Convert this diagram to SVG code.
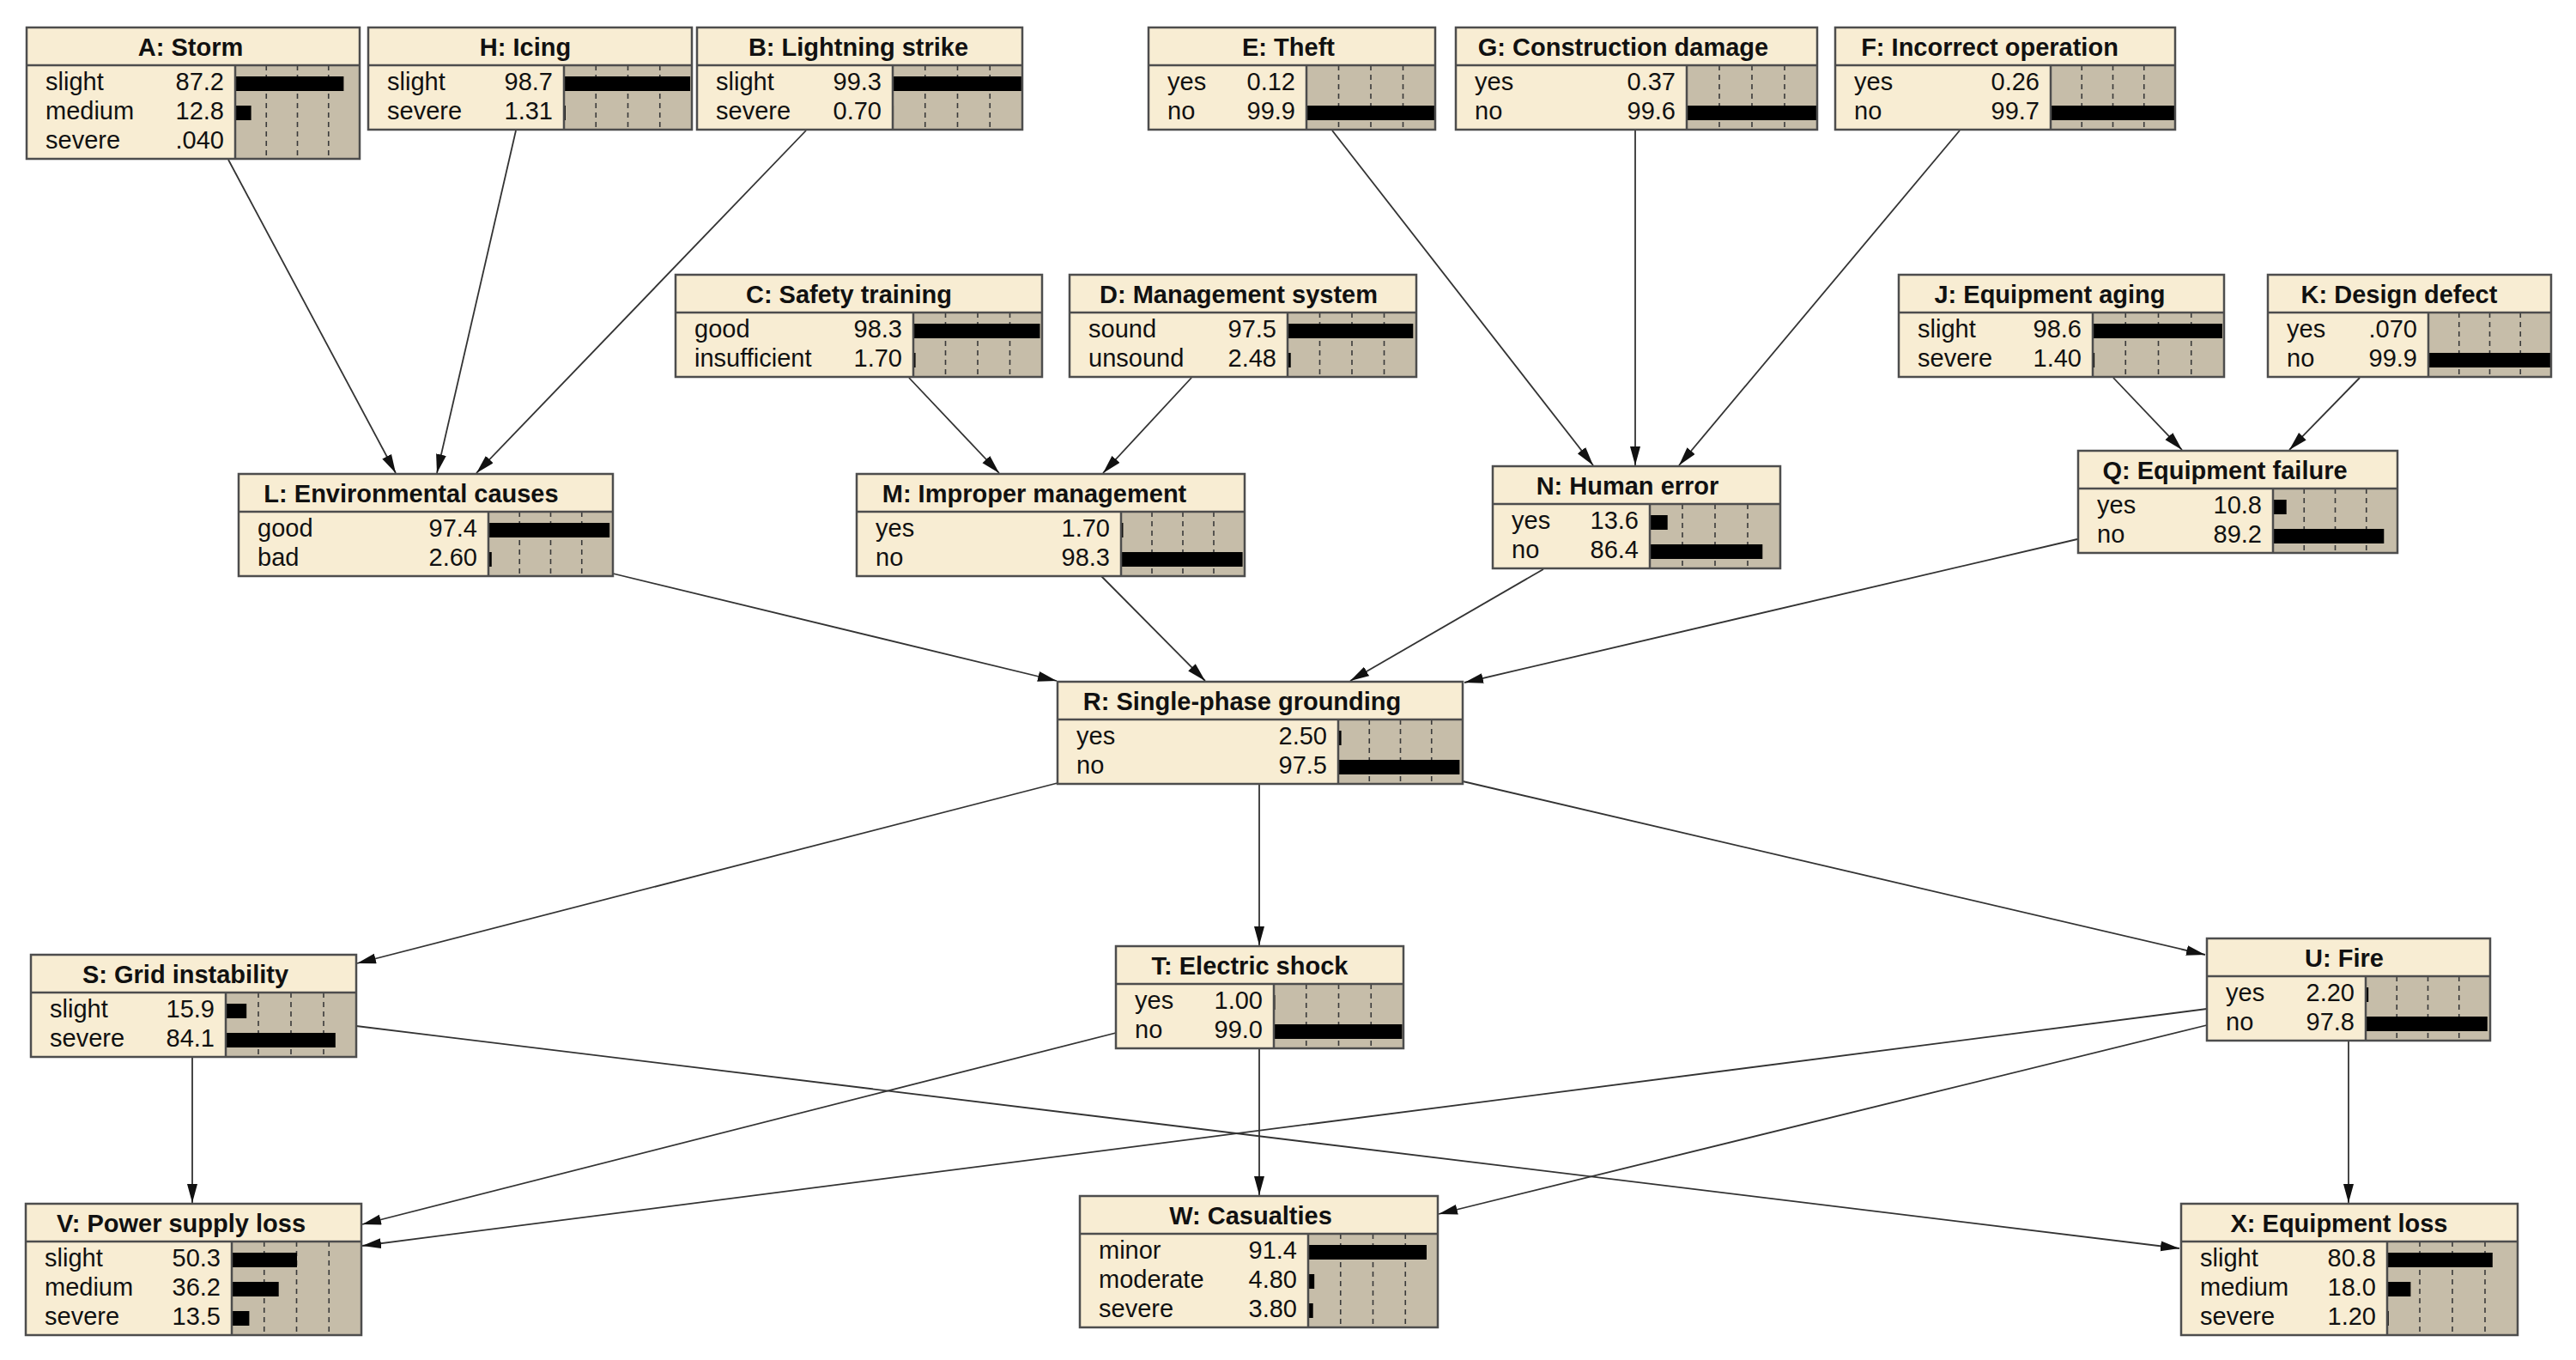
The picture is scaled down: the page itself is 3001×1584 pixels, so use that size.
<svg xmlns="http://www.w3.org/2000/svg" width="3001" height="1584" viewBox="0 0 3001 1584">
<defs>
<style>
.bg{fill:#ffffff}
.box{fill:#F8EDD3}
.frame{fill:none;stroke:#4d4d4d;stroke-width:2.5}
.sep{stroke:#4d4d4d;stroke-width:2.5}
.ba{fill:#C6BDA9}
.grid{stroke:#3a3a3a;stroke-width:1.6;stroke-dasharray:6 5}
.bar{fill:#000}
.title{font-family:"Liberation Sans",Arial,sans-serif;font-weight:bold;font-size:29px;fill:#111;text-anchor:middle}
.lbl{font-family:"Liberation Sans",Arial,sans-serif;font-size:29px;fill:#111}
.val{font-family:"Liberation Sans",Arial,sans-serif;font-size:29px;fill:#111;text-anchor:end}
.edge{stroke:#333;stroke-width:1.8;fill:none;marker-end:url(#arr)}
</style>
<marker id="arr" markerUnits="userSpaceOnUse" markerWidth="24" markerHeight="14" refX="22" refY="6" orient="auto">
<path d="M0,0 L22,6 L0,12 z" fill="#111"/>
</marker>
</defs>
<rect class="bg" x="0" y="0" width="3001" height="1584"/>

<g id="connectors">
<line class="edge" x1="266" y1="186" x2="461" y2="551"/>
<line class="edge" x1="601" y1="152" x2="509" y2="551"/>
<line class="edge" x1="939" y1="152" x2="555" y2="551"/>
<line class="edge" x1="1059" y1="440" x2="1164" y2="551"/>
<line class="edge" x1="1388" y1="440" x2="1285" y2="551"/>
<line class="edge" x1="1552" y1="152" x2="1856" y2="542"/>
<line class="edge" x1="1905" y1="152" x2="1905" y2="542"/>
<line class="edge" x1="2283" y1="152" x2="1956" y2="542"/>
<line class="edge" x1="2462" y1="440" x2="2542" y2="524"/>
<line class="edge" x1="2749" y1="440" x2="2667" y2="524"/>
<line class="edge" x1="714" y1="668" x2="1231" y2="793"/>
<line class="edge" x1="1283" y1="671" x2="1404" y2="793"/>
<line class="edge" x1="1798" y1="663" x2="1573" y2="793"/>
<line class="edge" x1="2420" y1="628" x2="1706" y2="795"/>
<line class="edge" x1="1232" y1="912" x2="416" y2="1122"/>
<line class="edge" x1="1467" y1="912" x2="1467" y2="1101"/>
<line class="edge" x1="1704" y1="910" x2="2569" y2="1112"/>
<line class="edge" x1="224" y1="1231" x2="224" y2="1401"/>
<line class="edge" x1="415" y1="1195" x2="2539" y2="1454"/>
<line class="edge" x1="1300" y1="1203" x2="422" y2="1426"/>
<line class="edge" x1="2571" y1="1175" x2="422" y2="1451"/>
<line class="edge" x1="1467" y1="1222" x2="1467" y2="1392"/>
<line class="edge" x1="2571" y1="1194" x2="1676" y2="1414"/>
<line class="edge" x1="2736" y1="1211" x2="2736" y2="1401"/>
</g>

<!-- A: Storm -->
<g id="node-A" transform="translate(31,32)">
<rect class="box" x="0" y="0" width="388" height="153"/>
<rect class="ba" x="243" y="44" width="145" height="109"/>
<line class="grid" x1="279.25" y1="44" x2="279.25" y2="153"/><line class="grid" x1="315.5" y1="44" x2="315.5" y2="153"/><line class="grid" x1="351.75" y1="44" x2="351.75" y2="153"/>
<rect class="bar" x="243" y="57" width="126.4" height="17"/>
<rect class="bar" x="243" y="91" width="18.6" height="17"/>
<text class="title" x="191" y="33">A: Storm</text>
<text class="lbl" x="22" y="73">slight</text><text class="val" x="230" y="73">87.2</text>
<text class="lbl" x="22" y="107">medium</text><text class="val" x="230" y="107">12.8</text>
<text class="lbl" x="22" y="141">severe</text><text class="val" x="230" y="141">.040</text>
<line class="sep" x1="0" y1="44" x2="388" y2="44"/><line class="sep" x1="243" y1="44" x2="243" y2="153"/>
<rect class="frame" x="0" y="0" width="388" height="153"/>
</g>

<!-- H: Icing -->
<g id="node-H" transform="translate(429,32)">
<rect class="box" x="0" y="0" width="377" height="119"/>
<rect class="ba" x="228" y="44" width="149" height="75"/>
<line class="grid" x1="265.25" y1="44" x2="265.25" y2="119"/><line class="grid" x1="302.5" y1="44" x2="302.5" y2="119"/><line class="grid" x1="339.75" y1="44" x2="339.75" y2="119"/>
<rect class="bar" x="228" y="57" width="147.1" height="17"/>
<rect class="bar" x="228" y="91" width="1.95" height="17"/>
<text class="title" x="183" y="33">H: Icing</text>
<text class="lbl" x="22" y="73">slight</text><text class="val" x="215" y="73">98.7</text>
<text class="lbl" x="22" y="107">severe</text><text class="val" x="215" y="107">1.31</text>
<line class="sep" x1="0" y1="44" x2="377" y2="44"/><line class="sep" x1="228" y1="44" x2="228" y2="119"/>
<rect class="frame" x="0" y="0" width="377" height="119"/>
</g>

<!-- B: Lightning strike -->
<g id="node-B" transform="translate(812,32)">
<rect class="box" x="0" y="0" width="379" height="119"/>
<rect class="ba" x="228" y="44" width="151" height="75"/>
<line class="grid" x1="265.75" y1="44" x2="265.75" y2="119"/><line class="grid" x1="303.5" y1="44" x2="303.5" y2="119"/><line class="grid" x1="341.25" y1="44" x2="341.25" y2="119"/>
<rect class="bar" x="228" y="57" width="149.9" height="17"/>
<rect class="bar" x="228" y="91" width="1.06" height="17"/>
<text class="title" x="188" y="33">B: Lightning strike</text>
<text class="lbl" x="22" y="73">slight</text><text class="val" x="215" y="73">99.3</text>
<text class="lbl" x="22" y="107">severe</text><text class="val" x="215" y="107">0.70</text>
<line class="sep" x1="0" y1="44" x2="379" y2="44"/><line class="sep" x1="228" y1="44" x2="228" y2="119"/>
<rect class="frame" x="0" y="0" width="379" height="119"/>
</g>

<!-- E: Theft -->
<g id="node-E" transform="translate(1338,32)">
<rect class="box" x="0" y="0" width="334" height="119"/>
<rect class="ba" x="184" y="44" width="150" height="75"/>
<line class="grid" x1="221.5" y1="44" x2="221.5" y2="119"/><line class="grid" x1="259" y1="44" x2="259" y2="119"/><line class="grid" x1="296.5" y1="44" x2="296.5" y2="119"/>
<rect class="bar" x="184" y="57" width="0.18" height="17"/>
<rect class="bar" x="184" y="91" width="149.9" height="17"/>
<text class="title" x="163" y="33">E: Theft</text>
<text class="lbl" x="22" y="73">yes</text><text class="val" x="171" y="73">0.12</text>
<text class="lbl" x="22" y="107">no</text><text class="val" x="171" y="107">99.9</text>
<line class="sep" x1="0" y1="44" x2="334" y2="44"/><line class="sep" x1="184" y1="44" x2="184" y2="119"/>
<rect class="frame" x="0" y="0" width="334" height="119"/>
</g>

<!-- G: Construction damage -->
<g id="node-G" transform="translate(1696,32)">
<rect class="box" x="0" y="0" width="421" height="119"/>
<rect class="ba" x="269" y="44" width="152" height="75"/>
<line class="grid" x1="307" y1="44" x2="307" y2="119"/><line class="grid" x1="345" y1="44" x2="345" y2="119"/><line class="grid" x1="383" y1="44" x2="383" y2="119"/>
<rect class="bar" x="269" y="57" width="0.56" height="17"/>
<rect class="bar" x="269" y="91" width="151.4" height="17"/>
<text class="title" x="195" y="33">G: Construction damage</text>
<text class="lbl" x="22" y="73">yes</text><text class="val" x="256" y="73">0.37</text>
<text class="lbl" x="22" y="107">no</text><text class="val" x="256" y="107">99.6</text>
<line class="sep" x1="0" y1="44" x2="421" y2="44"/><line class="sep" x1="269" y1="44" x2="269" y2="119"/>
<rect class="frame" x="0" y="0" width="421" height="119"/>
</g>

<!-- F: Incorrect operation -->
<g id="node-F" transform="translate(2138,32)">
<rect class="box" x="0" y="0" width="396" height="119"/>
<rect class="ba" x="251" y="44" width="145" height="75"/>
<line class="grid" x1="287.25" y1="44" x2="287.25" y2="119"/><line class="grid" x1="323.5" y1="44" x2="323.5" y2="119"/><line class="grid" x1="359.75" y1="44" x2="359.75" y2="119"/>
<rect class="bar" x="251" y="57" width="0.38" height="17"/>
<rect class="bar" x="251" y="91" width="144.6" height="17"/>
<text class="title" x="180" y="33">F: Incorrect operation</text>
<text class="lbl" x="22" y="73">yes</text><text class="val" x="238" y="73">0.26</text>
<text class="lbl" x="22" y="107">no</text><text class="val" x="238" y="107">99.7</text>
<line class="sep" x1="0" y1="44" x2="396" y2="44"/><line class="sep" x1="251" y1="44" x2="251" y2="119"/>
<rect class="frame" x="0" y="0" width="396" height="119"/>
</g>

<!-- C: Safety training -->
<g id="node-C" transform="translate(787,320)">
<rect class="box" x="0" y="0" width="427" height="119"/>
<rect class="ba" x="277" y="44" width="150" height="75"/>
<line class="grid" x1="314.5" y1="44" x2="314.5" y2="119"/><line class="grid" x1="352" y1="44" x2="352" y2="119"/><line class="grid" x1="389.5" y1="44" x2="389.5" y2="119"/>
<rect class="bar" x="277" y="57" width="147.5" height="17"/>
<rect class="bar" x="277" y="91" width="2.55" height="17"/>
<text class="title" x="202" y="33">C: Safety training</text>
<text class="lbl" x="22" y="73">good</text><text class="val" x="264" y="73">98.3</text>
<text class="lbl" x="22" y="107">insufficient</text><text class="val" x="264" y="107">1.70</text>
<line class="sep" x1="0" y1="44" x2="427" y2="44"/><line class="sep" x1="277" y1="44" x2="277" y2="119"/>
<rect class="frame" x="0" y="0" width="427" height="119"/>
</g>

<!-- D: Management system -->
<g id="node-D" transform="translate(1246,320)">
<rect class="box" x="0" y="0" width="404" height="119"/>
<rect class="ba" x="254" y="44" width="150" height="75"/>
<line class="grid" x1="291.5" y1="44" x2="291.5" y2="119"/><line class="grid" x1="329" y1="44" x2="329" y2="119"/><line class="grid" x1="366.5" y1="44" x2="366.5" y2="119"/>
<rect class="bar" x="254" y="57" width="146.3" height="17"/>
<rect class="bar" x="254" y="91" width="3.72" height="17"/>
<text class="title" x="197" y="33">D: Management system</text>
<text class="lbl" x="22" y="73">sound</text><text class="val" x="241" y="73">97.5</text>
<text class="lbl" x="22" y="107">unsound</text><text class="val" x="241" y="107">2.48</text>
<line class="sep" x1="0" y1="44" x2="404" y2="44"/><line class="sep" x1="254" y1="44" x2="254" y2="119"/>
<rect class="frame" x="0" y="0" width="404" height="119"/>
</g>

<!-- J: Equipment aging -->
<g id="node-J" transform="translate(2212,320)">
<rect class="box" x="0" y="0" width="379" height="119"/>
<rect class="ba" x="226" y="44" width="153" height="75"/>
<line class="grid" x1="264.25" y1="44" x2="264.25" y2="119"/><line class="grid" x1="302.5" y1="44" x2="302.5" y2="119"/><line class="grid" x1="340.75" y1="44" x2="340.75" y2="119"/>
<rect class="bar" x="226" y="57" width="150.9" height="17"/>
<rect class="bar" x="226" y="91" width="2.14" height="17"/>
<text class="title" x="176" y="33">J: Equipment aging</text>
<text class="lbl" x="22" y="73">slight</text><text class="val" x="213" y="73">98.6</text>
<text class="lbl" x="22" y="107">severe</text><text class="val" x="213" y="107">1.40</text>
<line class="sep" x1="0" y1="44" x2="379" y2="44"/><line class="sep" x1="226" y1="44" x2="226" y2="119"/>
<rect class="frame" x="0" y="0" width="379" height="119"/>
</g>

<!-- K: Design defect -->
<g id="node-K" transform="translate(2642,320)">
<rect class="box" x="0" y="0" width="330" height="119"/>
<rect class="ba" x="187" y="44" width="143" height="75"/>
<line class="grid" x1="222.75" y1="44" x2="222.75" y2="119"/><line class="grid" x1="258.5" y1="44" x2="258.5" y2="119"/><line class="grid" x1="294.25" y1="44" x2="294.25" y2="119"/>
<rect class="bar" x="187" y="57" width="0.1" height="17"/>
<rect class="bar" x="187" y="91" width="142.9" height="17"/>
<text class="title" x="153" y="33">K: Design defect</text>
<text class="lbl" x="22" y="73">yes</text><text class="val" x="174" y="73">.070</text>
<text class="lbl" x="22" y="107">no</text><text class="val" x="174" y="107">99.9</text>
<line class="sep" x1="0" y1="44" x2="330" y2="44"/><line class="sep" x1="187" y1="44" x2="187" y2="119"/>
<rect class="frame" x="0" y="0" width="330" height="119"/>
</g>

<!-- L: Environmental causes -->
<g id="node-L" transform="translate(278,552)">
<rect class="box" x="0" y="0" width="436" height="119"/>
<rect class="ba" x="291" y="44" width="145" height="75"/>
<line class="grid" x1="327.25" y1="44" x2="327.25" y2="119"/><line class="grid" x1="363.5" y1="44" x2="363.5" y2="119"/><line class="grid" x1="399.75" y1="44" x2="399.75" y2="119"/>
<rect class="bar" x="291" y="57" width="141.2" height="17"/>
<rect class="bar" x="291" y="91" width="3.77" height="17"/>
<text class="title" x="201" y="33">L: Environmental causes</text>
<text class="lbl" x="22" y="73">good</text><text class="val" x="278" y="73">97.4</text>
<text class="lbl" x="22" y="107">bad</text><text class="val" x="278" y="107">2.60</text>
<line class="sep" x1="0" y1="44" x2="436" y2="44"/><line class="sep" x1="291" y1="44" x2="291" y2="119"/>
<rect class="frame" x="0" y="0" width="436" height="119"/>
</g>

<!-- M: Improper management -->
<g id="node-M" transform="translate(998,552)">
<rect class="box" x="0" y="0" width="452" height="119"/>
<rect class="ba" x="308" y="44" width="144" height="75"/>
<line class="grid" x1="344" y1="44" x2="344" y2="119"/><line class="grid" x1="380" y1="44" x2="380" y2="119"/><line class="grid" x1="416" y1="44" x2="416" y2="119"/>
<rect class="bar" x="308" y="57" width="2.45" height="17"/>
<rect class="bar" x="308" y="91" width="141.6" height="17"/>
<text class="title" x="207" y="33">M: Improper management</text>
<text class="lbl" x="22" y="73">yes</text><text class="val" x="295" y="73">1.70</text>
<text class="lbl" x="22" y="107">no</text><text class="val" x="295" y="107">98.3</text>
<line class="sep" x1="0" y1="44" x2="452" y2="44"/><line class="sep" x1="308" y1="44" x2="308" y2="119"/>
<rect class="frame" x="0" y="0" width="452" height="119"/>
</g>

<!-- N: Human error -->
<g id="node-N" transform="translate(1739,543)">
<rect class="box" x="0" y="0" width="335" height="119"/>
<rect class="ba" x="183" y="44" width="152" height="75"/>
<line class="grid" x1="221" y1="44" x2="221" y2="119"/><line class="grid" x1="259" y1="44" x2="259" y2="119"/><line class="grid" x1="297" y1="44" x2="297" y2="119"/>
<rect class="bar" x="183" y="57" width="20.7" height="17"/>
<rect class="bar" x="183" y="91" width="131.3" height="17"/>
<text class="title" x="157" y="33">N: Human error</text>
<text class="lbl" x="22" y="73">yes</text><text class="val" x="170" y="73">13.6</text>
<text class="lbl" x="22" y="107">no</text><text class="val" x="170" y="107">86.4</text>
<line class="sep" x1="0" y1="44" x2="335" y2="44"/><line class="sep" x1="183" y1="44" x2="183" y2="119"/>
<rect class="frame" x="0" y="0" width="335" height="119"/>
</g>

<!-- Q: Equipment failure -->
<g id="node-Q" transform="translate(2421,525)">
<rect class="box" x="0" y="0" width="372" height="119"/>
<rect class="ba" x="227" y="44" width="145" height="75"/>
<line class="grid" x1="263.25" y1="44" x2="263.25" y2="119"/><line class="grid" x1="299.5" y1="44" x2="299.5" y2="119"/><line class="grid" x1="335.75" y1="44" x2="335.75" y2="119"/>
<rect class="bar" x="227" y="57" width="15.7" height="17"/>
<rect class="bar" x="227" y="91" width="129.3" height="17"/>
<text class="title" x="171" y="33">Q: Equipment failure</text>
<text class="lbl" x="22" y="73">yes</text><text class="val" x="214" y="73">10.8</text>
<text class="lbl" x="22" y="107">no</text><text class="val" x="214" y="107">89.2</text>
<line class="sep" x1="0" y1="44" x2="372" y2="44"/><line class="sep" x1="227" y1="44" x2="227" y2="119"/>
<rect class="frame" x="0" y="0" width="372" height="119"/>
</g>

<!-- R: Single-phase grounding -->
<g id="node-R" transform="translate(1232,794)">
<rect class="box" x="0" y="0" width="472" height="119"/>
<rect class="ba" x="327" y="44" width="145" height="75"/>
<line class="grid" x1="363.25" y1="44" x2="363.25" y2="119"/><line class="grid" x1="399.5" y1="44" x2="399.5" y2="119"/><line class="grid" x1="435.75" y1="44" x2="435.75" y2="119"/>
<rect class="bar" x="327" y="57" width="3.6" height="17"/>
<rect class="bar" x="327" y="91" width="141.4" height="17"/>
<text class="title" x="215" y="33">R: Single-phase grounding</text>
<text class="lbl" x="22" y="73">yes</text><text class="val" x="314" y="73">2.50</text>
<text class="lbl" x="22" y="107">no</text><text class="val" x="314" y="107">97.5</text>
<line class="sep" x1="0" y1="44" x2="472" y2="44"/><line class="sep" x1="327" y1="44" x2="327" y2="119"/>
<rect class="frame" x="0" y="0" width="472" height="119"/>
</g>

<!-- S: Grid instability -->
<g id="node-S" transform="translate(36,1112)">
<rect class="box" x="0" y="0" width="379" height="119"/>
<rect class="ba" x="227" y="44" width="152" height="75"/>
<line class="grid" x1="265" y1="44" x2="265" y2="119"/><line class="grid" x1="303" y1="44" x2="303" y2="119"/><line class="grid" x1="341" y1="44" x2="341" y2="119"/>
<rect class="bar" x="227" y="57" width="24.2" height="17"/>
<rect class="bar" x="227" y="91" width="127.8" height="17"/>
<text class="title" x="180" y="33">S: Grid instability</text>
<text class="lbl" x="22" y="73">slight</text><text class="val" x="214" y="73">15.9</text>
<text class="lbl" x="22" y="107">severe</text><text class="val" x="214" y="107">84.1</text>
<line class="sep" x1="0" y1="44" x2="379" y2="44"/><line class="sep" x1="227" y1="44" x2="227" y2="119"/>
<rect class="frame" x="0" y="0" width="379" height="119"/>
</g>

<!-- T: Electric shock -->
<g id="node-T" transform="translate(1300,1102)">
<rect class="box" x="0" y="0" width="335" height="119"/>
<rect class="ba" x="184" y="44" width="151" height="75"/>
<line class="grid" x1="221.75" y1="44" x2="221.75" y2="119"/><line class="grid" x1="259.5" y1="44" x2="259.5" y2="119"/><line class="grid" x1="297.25" y1="44" x2="297.25" y2="119"/>
<rect class="bar" x="184" y="57" width="1.5" height="17"/>
<rect class="bar" x="184" y="91" width="149.5" height="17"/>
<text class="title" x="156" y="33">T: Electric shock</text>
<text class="lbl" x="22" y="73">yes</text><text class="val" x="171" y="73">1.00</text>
<text class="lbl" x="22" y="107">no</text><text class="val" x="171" y="107">99.0</text>
<line class="sep" x1="0" y1="44" x2="335" y2="44"/><line class="sep" x1="184" y1="44" x2="184" y2="119"/>
<rect class="frame" x="0" y="0" width="335" height="119"/>
</g>

<!-- U: Fire -->
<g id="node-U" transform="translate(2571,1093)">
<rect class="box" x="0" y="0" width="330" height="119"/>
<rect class="ba" x="185" y="44" width="145" height="75"/>
<line class="grid" x1="221.25" y1="44" x2="221.25" y2="119"/><line class="grid" x1="257.5" y1="44" x2="257.5" y2="119"/><line class="grid" x1="293.75" y1="44" x2="293.75" y2="119"/>
<rect class="bar" x="185" y="57" width="3.2" height="17"/>
<rect class="bar" x="185" y="91" width="141.8" height="17"/>
<text class="title" x="160" y="33">U: Fire</text>
<text class="lbl" x="22" y="73">yes</text><text class="val" x="172" y="73">2.20</text>
<text class="lbl" x="22" y="107">no</text><text class="val" x="172" y="107">97.8</text>
<line class="sep" x1="0" y1="44" x2="330" y2="44"/><line class="sep" x1="185" y1="44" x2="185" y2="119"/>
<rect class="frame" x="0" y="0" width="330" height="119"/>
</g>

<!-- V: Power supply loss -->
<g id="node-V" transform="translate(30,1402)">
<rect class="box" x="0" y="0" width="391" height="153"/>
<rect class="ba" x="240" y="44" width="151" height="109"/>
<line class="grid" x1="277.75" y1="44" x2="277.75" y2="153"/><line class="grid" x1="315.5" y1="44" x2="315.5" y2="153"/><line class="grid" x1="353.25" y1="44" x2="353.25" y2="153"/>
<rect class="bar" x="240" y="57" width="76" height="17"/>
<rect class="bar" x="240" y="91" width="54.7" height="17"/>
<rect class="bar" x="240" y="125" width="20.4" height="17"/>
<text class="title" x="181" y="33">V: Power supply loss</text>
<text class="lbl" x="22" y="73">slight</text><text class="val" x="227" y="73">50.3</text>
<text class="lbl" x="22" y="107">medium</text><text class="val" x="227" y="107">36.2</text>
<text class="lbl" x="22" y="141">severe</text><text class="val" x="227" y="141">13.5</text>
<line class="sep" x1="0" y1="44" x2="391" y2="44"/><line class="sep" x1="240" y1="44" x2="240" y2="153"/>
<rect class="frame" x="0" y="0" width="391" height="153"/>
</g>

<!-- W: Casualties -->
<g id="node-W" transform="translate(1258,1393)">
<rect class="box" x="0" y="0" width="417" height="153"/>
<rect class="ba" x="266" y="44" width="151" height="109"/>
<line class="grid" x1="303.75" y1="44" x2="303.75" y2="153"/><line class="grid" x1="341.5" y1="44" x2="341.5" y2="153"/><line class="grid" x1="379.25" y1="44" x2="379.25" y2="153"/>
<rect class="bar" x="266" y="57" width="138" height="17"/>
<rect class="bar" x="266" y="91" width="7.2" height="17"/>
<rect class="bar" x="266" y="125" width="5.7" height="17"/>
<text class="title" x="199" y="33">W: Casualties</text>
<text class="lbl" x="22" y="73">minor</text><text class="val" x="253" y="73">91.4</text>
<text class="lbl" x="22" y="107">moderate</text><text class="val" x="253" y="107">4.80</text>
<text class="lbl" x="22" y="141">severe</text><text class="val" x="253" y="141">3.80</text>
<line class="sep" x1="0" y1="44" x2="417" y2="44"/><line class="sep" x1="266" y1="44" x2="266" y2="153"/>
<rect class="frame" x="0" y="0" width="417" height="153"/>
</g>

<!-- X: Equipment loss -->
<g id="node-X" transform="translate(2541,1402)">
<rect class="box" x="0" y="0" width="392" height="153"/>
<rect class="ba" x="240" y="44" width="152" height="109"/>
<line class="grid" x1="278" y1="44" x2="278" y2="153"/><line class="grid" x1="316" y1="44" x2="316" y2="153"/><line class="grid" x1="354" y1="44" x2="354" y2="153"/>
<rect class="bar" x="240" y="57" width="122.8" height="17"/>
<rect class="bar" x="240" y="91" width="27.4" height="17"/>
<rect class="bar" x="240" y="125" width="1.8" height="17"/>
<text class="title" x="184" y="33">X: Equipment loss</text>
<text class="lbl" x="22" y="73">slight</text><text class="val" x="227" y="73">80.8</text>
<text class="lbl" x="22" y="107">medium</text><text class="val" x="227" y="107">18.0</text>
<text class="lbl" x="22" y="141">severe</text><text class="val" x="227" y="141">1.20</text>
<line class="sep" x1="0" y1="44" x2="392" y2="44"/><line class="sep" x1="240" y1="44" x2="240" y2="153"/>
<rect class="frame" x="0" y="0" width="392" height="153"/>
</g>
</svg>
